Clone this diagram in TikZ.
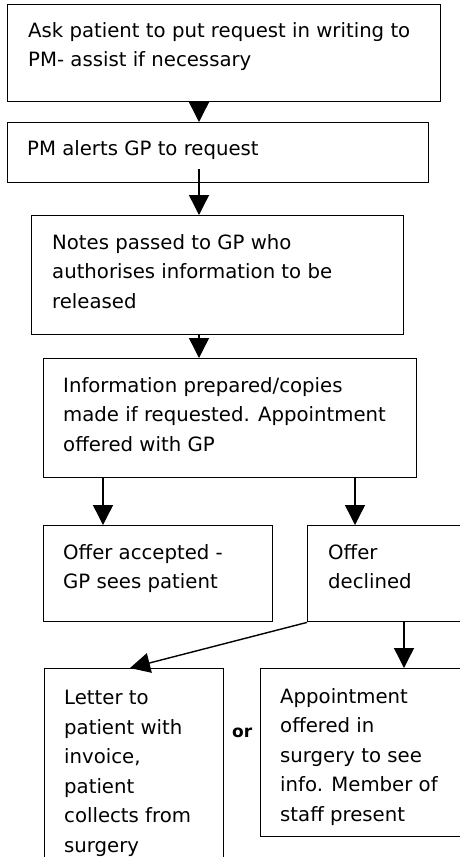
\documentclass[tikz,border=0pt]{standalone}
\usepackage{fontspec}
\setmainfont{DejaVu Sans}
\usetikzlibrary{arrows.meta,calc}
\begin{document}
\begin{tikzpicture}[x=1pt,y=-1pt,
  box/.style={draw, line width=1.4pt, inner sep=0pt, anchor=north west},
  txt/.style={anchor=base west, align=left, inner sep=0pt, font=\fontsize{19.7}{29.5}\selectfont},
  arr/.style={line width=1.4pt, -{Triangle[width=20pt,length=20pt]}},
  ]
\useasboundingbox (0,0) rectangle (460,857);
\clip (0,0) rectangle (460,857);
% boxes
\node[box, minimum width=433pt, minimum height=97pt] (b1) at (7,4) {};
\node[box, minimum width=421pt, minimum height=60pt] (b2) at (7,122) {};
\node[box, minimum width=372pt, minimum height=119pt] (b3) at (31,215) {};
\node[box, minimum width=373pt, minimum height=119pt] (b4) at (43,358) {};
\node[box, minimum width=229pt, minimum height=96pt] (b5) at (43,525) {};
\node[box, minimum width=200pt, minimum height=96pt] (b6) at (307,525) {};
\node[box, minimum width=179pt, minimum height=250pt] (b7) at (44,668) {};
\node[box, minimum width=250pt, minimum height=168pt] (b8) at (260,668) {};
% texts (anchored at the baseline of their last line)
\node[txt] (t1) at (28,66.5) {Ask patient to put request in writing to\\PM- assist if necessary};
\node[txt] (t2) at (27,155) {PM alerts GP to request};
\node[txt] (t3) at (52,308) {Notes passed to GP who\\authorises information to be\\released};
\node[txt] (t4) at (63,451) {Information prepared/copies\\made if requested. Appointment\\offered with GP};
\node[txt] (t5) at (63,588.5) {Offer accepted -\\GP sees patient};
\node[txt] (t6) at (328,588.5) {Offer\\declined};
\node[txt] (t7) at (64,852) {Letter to\\patient with\\invoice,\\patient\\collects from\\surgery};
\node[txt] (t8) at (280,821) {Appointment\\offered in\\surgery to see\\info. Member of\\staff present};
\node[anchor=base west, inner sep=0pt, font=\fontsize{17}{20}\selectfont\bfseries] (or) at (232,737) {or};
% connector x positions
\coordinate (ax) at (199,0);
\coordinate (lx) at (103,0);
\coordinate (rx) at (355,0);
\coordinate (dx) at (404,0);
% connectors
\draw[arr] (b1.south -| ax) -- (b2.north -| ax);
\draw[arr] ($(b2.south -| ax)+(0,-14)$) -- (b3.north -| ax);
\draw[arr] (b3.south -| ax) -- (b4.north -| ax);
\draw[arr] (b4.south -| lx) -- (b5.north -| lx);
\draw[arr] (b4.south -| rx) -- (b6.north -| rx);
\draw[arr] (b6.south west) -- ($(b7.north west)+(86,0)$);
\draw[arr] (b6.south -| dx) -- (b8.north -| dx);
\end{tikzpicture}
\end{document}
